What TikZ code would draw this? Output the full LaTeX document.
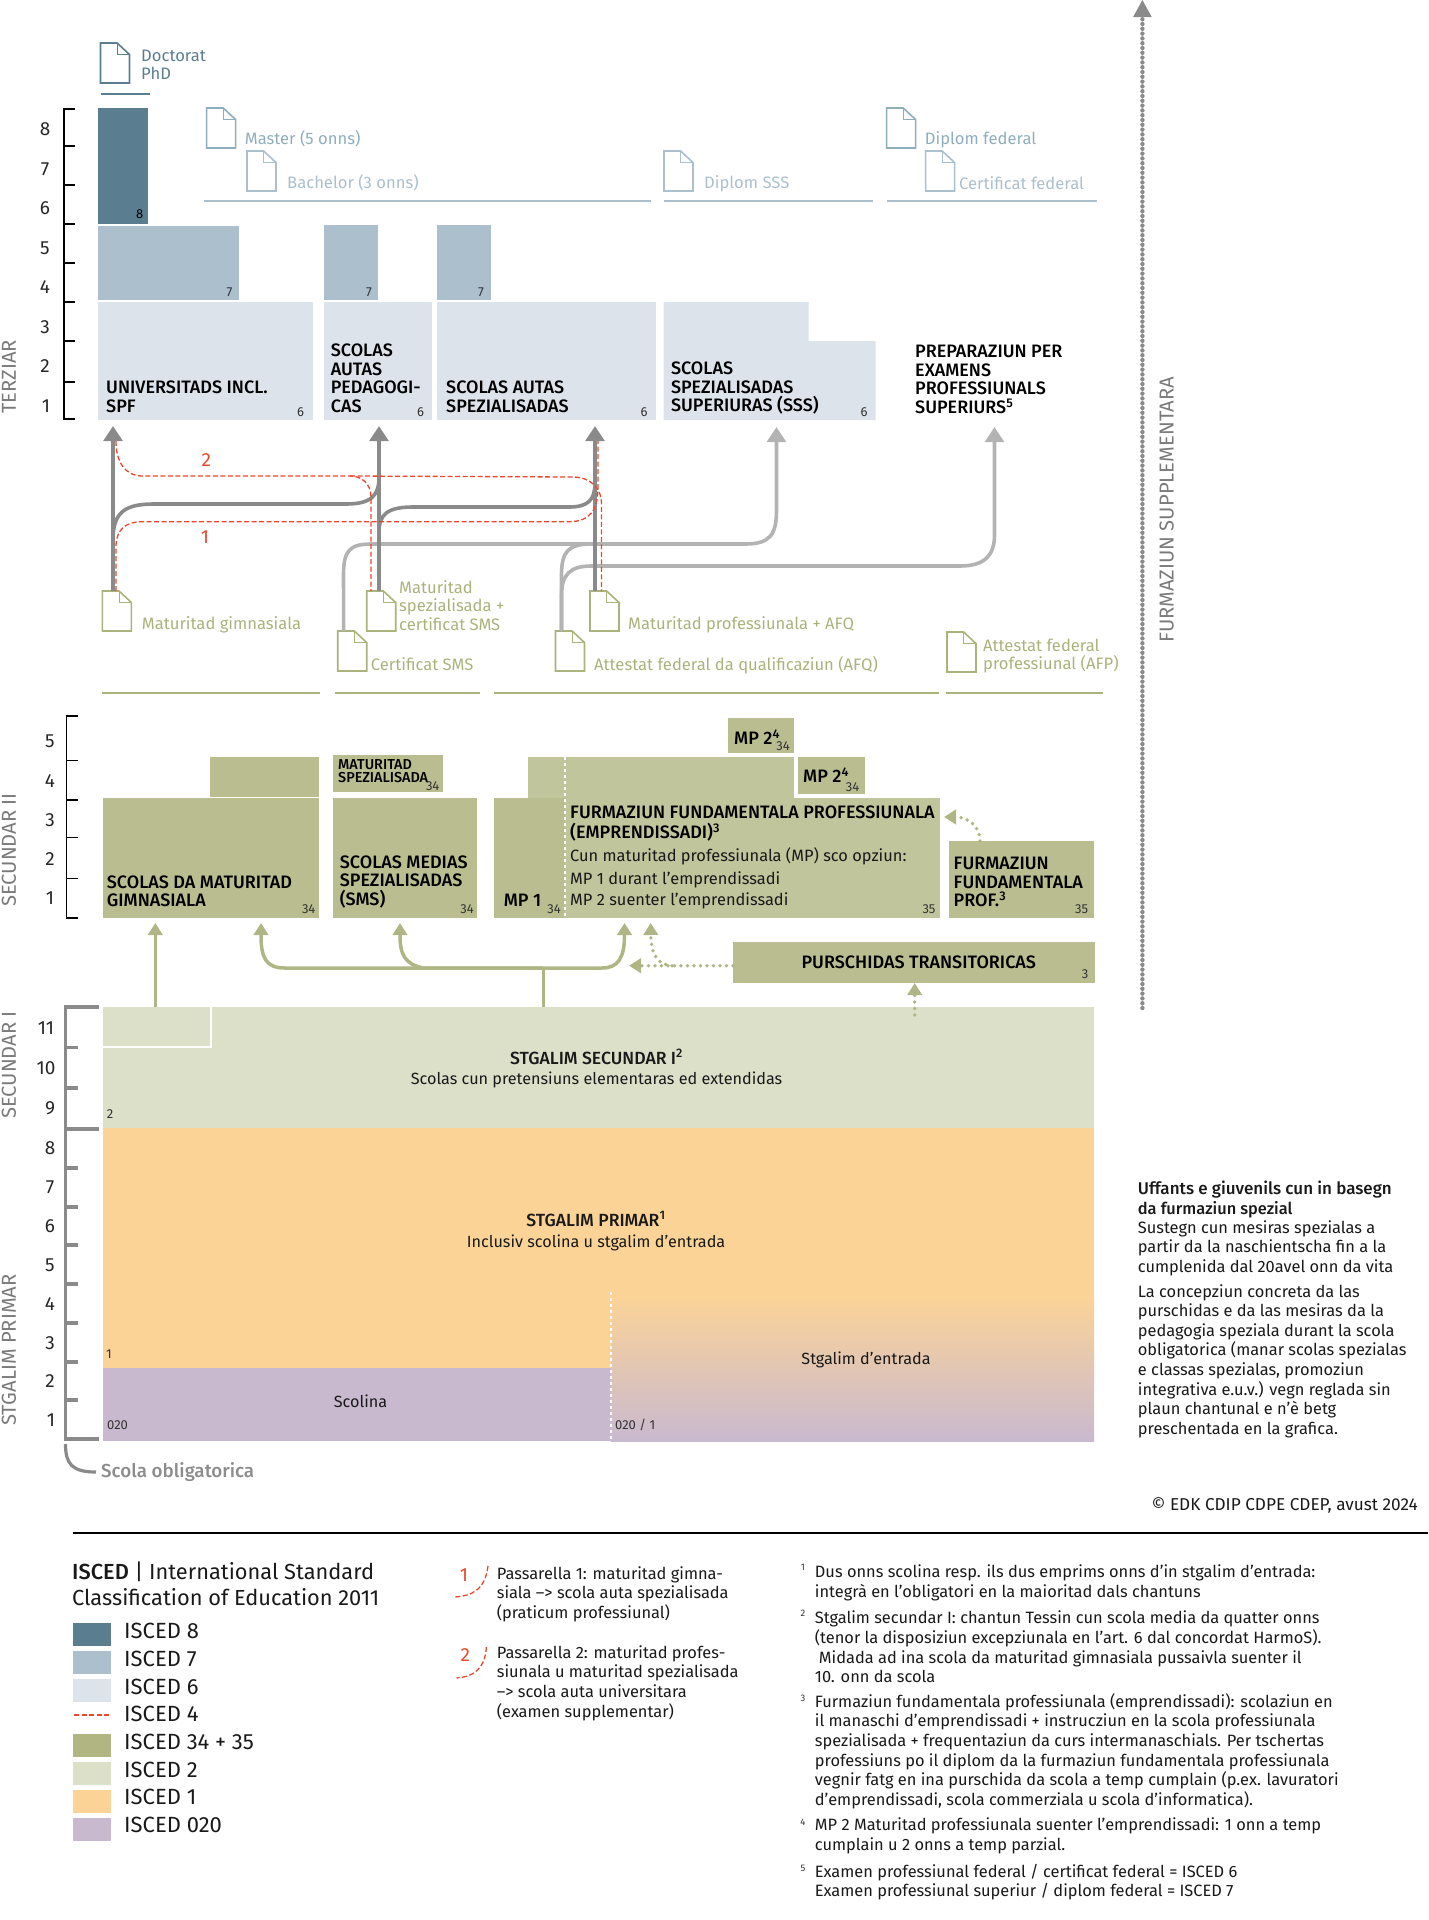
\documentclass[tikz,border=0pt]{standalone}
\usepackage{fontspec}
\setmainfont{Fira Sans}[BoldFont={Fira Sans Medium}]
\usepackage{xcolor}
\usetikzlibrary{arrows.meta}

\definecolor{isedeight}{HTML}{5A7D90}
\definecolor{isedseven}{HTML}{ABBFCD}
\definecolor{isedsix}{HTML}{DCE3EA}
\definecolor{isedsec}{HTML}{B9BD8F}
\definecolor{isedmain}{HTML}{C0C59C}
\definecolor{isedleg}{HTML}{B0B582}
\definecolor{isedtwo}{HTML}{DCE0C9}
\definecolor{isedone}{HTML}{FBD397}
\definecolor{isedzero}{HTML}{C9B9CF}
\definecolor{passred}{HTML}{E8472B}
\definecolor{darkarrow}{HTML}{8A8A8A}
\definecolor{lightarrow}{HTML}{B3B3B3}
\definecolor{greenarrow}{HTML}{B0B585}
\definecolor{greentext}{HTML}{ABB27B}
\definecolor{midblue}{HTML}{8FAEBD}
\definecolor{sidegray}{HTML}{7A7A7A}

\tikzset{
  isbox/.style={inner sep=0,outer sep=0,minimum width=#1,anchor=north west},
  boldtxt/.style={font=\fontsize{18}{18.5}\selectfont\bfseries,align=left,inner sep=0,anchor=west,text=black},
  plaintxt/.style={font=\fontsize{16.4}{19.6}\selectfont,align=left,inner sep=0,anchor=west,text=black!90},
  midtxt/.style={font=\fontsize{16.2}{18.5}\selectfont,align=center,inner sep=0,text=black!90},
  docblue/.style={font=\fontsize{16.6}{18.5}\selectfont,align=left,inner sep=0,anchor=west},
  docgreen/.style={font=\fontsize{16.6}{18.5}\selectfont,align=left,inner sep=0,anchor=west,text=greentext},
  isnum/.style={font=\fontsize{13}{13}\selectfont,inner sep=0,text=black!80},
  yearnum/.style={font=\fontsize{19}{20}\selectfont,inner sep=0,text=black!85},
  sidetxt/.style={font=\fontsize{20.2}{18}\selectfont,inner sep=0,rotate=90,text=sidegray},
  legtxt/.style={font=\fontsize{22}{22}\selectfont,inner sep=0,anchor=west,text=black!90},
  redtxt/.style={font=\fontsize{19}{20}\selectfont,inner sep=0,text=passred},
  swatch/.style={inner sep=0,outer sep=0,minimum width=37.5,minimum height=23,anchor=west},
  darkline/.style={draw=darkarrow,line width=3.6},
  darkarr/.style={darkline,-{Triangle[width=18.7,length=15]}},
  lightline/.style={draw=lightarrow,line width=3.6},
  lightarr/.style={lightline,-{Triangle[width=18.7,length=15]}},
  greenline/.style={draw=greenarrow,line width=3.5},
  greenarr/.style={greenline,-{Triangle[width=14.3,length=12]}},
  greendot/.style={draw=greenarrow,line width=3.8,line cap=round,dash pattern=on 0pt off 6.5pt,
    -{Triangle[width=14.3,length=12,fill=greenarrow,line cap=butt]}},
  redline/.style={draw=passred,line width=1.3,dash pattern=on 5pt off 2.5pt},
  scalethin/.style={draw=black,line width=1.4},
  scalethick/.style={draw=darkarrow,line width=3.2},
}

% icon: name, left, top, colour
\newcommand{\docicon}[4]{%
  \node[inner sep=0,outer sep=0,minimum width=29,minimum height=40,anchor=north west] (#1) at (#2,#3) {};
  \draw[#4,line width=1.6,fill=white] (#2,#3) -- ++(16.6,0) -- ++(12.4,11.5) -- ++(0,28.5) -- ++(-29,0) -- cycle;
  \draw[#4,line width=1] (#2+16.6,#3) -- ++(0,11.5) -- ++(12.4,0);
}

\begin{document}
\begin{tikzpicture}[x=1pt,y=-1pt]
  \useasboundingbox (0,0) rectangle (1428,1920);

  % tertiary boxes
  \node[isbox=50.5,minimum height=116,fill=isedeight] (phdbox) at (97.5,108) {};
  \node[isbox=141.5,minimum height=74,fill=isedseven] (unisev) at (97.5,226) {};
  \node[isbox=54,minimum height=75,fill=isedseven] (phsev) at (324,225) {};
  \node[isbox=54,minimum height=75,fill=isedseven] (fhsev) at (437,225) {};
  \node[isbox=215.5,minimum height=118,fill=isedsix] (unibox) at (97.5,302) {};
  \node[isbox=108,minimum height=118,fill=isedsix] (phbox) at (324,302) {};
  \node[isbox=219,minimum height=118,fill=isedsix] (fhbox) at (437,302) {};
  \fill[isedsix] (663.5,302) -- (808.6,302) -- (808.6,341) -- (875.5,341) -- (875.5,420) -- (663.5,420) -- cycle;
  \coordinate (sssbox) at (663.5,420);

  \node[boldtxt] (unitxt) at (106,397) {UNIVERSITADS INCL.\\SPF};
  \node[boldtxt] (phtxt) at (330.6,378.5) {SCOLAS\\AUTAS\\PEDAGOGI-\\CAS};
  \node[boldtxt] (fhtxt) at (446,397) {SCOLAS AUTAS\\SPEZIALISADAS};
  \node[boldtxt] (ssstxt) at (670.8,388.5) {SCOLAS\\SPEZIALISADAS\\SUPERIURAS (SSS)};
  \node[boldtxt] (preptxt) at (915,379.5) {PREPARAZIUN PER\\EXAMENS\\PROFESSIUNALS\\SUPERIURS\textsuperscript{5}};

  \node[isnum,text=black] (numphd) at (139.6,214) {8};
  \node[isnum] (numuni) at (229.6,292) {7};
  \node[isnum] (numph) at (369,292) {7};
  \node[isnum] (numfh) at (481,292) {7};
  \node[isnum] (sixuni) at (300.7,412) {6};
  \node[isnum] (sixph) at (420.6,412) {6};
  \node[isnum] (sixfh) at (644,412) {6};
  \node[isnum] (sixsss) at (864,412) {6};

  % diplomas
  \docicon{phdicon}{100.5}{43}{isedeight}
  \node[docblue,text=isedeight] (phdtxt) at (141,65) {Doctorat\\PhD};
  \draw[isedeight,line width=2] (phdicon.west |- 0,94) -- (150,94);
  \docicon{masicon}{206.6}{108}{midblue}
  \node[docblue,text=midblue] (mastxt) at (244.7,139) {Master (5 onns)};
  \docicon{baicon}{247}{151}{isedseven}
  \node[docblue,text=isedseven] (batxt) at (287,183) {Bachelor (3 onns)};
  \docicon{sssicon}{664}{151}{isedseven}
  \node[docblue,text=isedseven] (ssslbl) at (704,184) {Diplom SSS};
  \docicon{dipicon}{886.6}{108}{midblue}
  \node[docblue,text=midblue] (diptxt) at (924.7,140) {Diplom federal};
  \docicon{cerficon}{925.6}{151}{isedseven}
  \node[docblue,text=isedseven] (certxt) at (959,183) {Certificat federal};
  \draw[isedseven,line width=2] (204,200.5) -- (650.6,200.5);
  \draw[isedseven,line width=2] (664,200.5) -- (872.7,200.5);
  \draw[isedseven,line width=2] (887,200.5) -- (1097,200.5);

  % tertiary scale
  \draw[scalethin] (75,109) -- (64,109) -- (64,419) -- (75,419);
  \draw[scalethin] (64,146) -- (75,146);
  \draw[scalethin] (64,185) -- (75,185);
  \draw[scalethin] (64,224) -- (75,224);
  \draw[scalethin] (64,263) -- (75,263);
  \draw[scalethin] (64,302) -- (75,302);
  \draw[scalethin] (64,341) -- (75,341);
  \draw[scalethin] (64,382) -- (75,382);
  \node[yearnum] (ter8) at (45,129) {8};
  \node[yearnum] (ter7) at (45,169) {7};
  \node[yearnum] (ter6) at (45,208) {6};
  \node[yearnum] (ter5) at (45,248) {5};
  \node[yearnum] (ter4) at (45,287) {4};
  \node[yearnum] (ter3) at (45,327) {3};
  \node[yearnum] (ter2) at (45,366) {2};
  \node[yearnum] (ter1) at (46,406) {1};
  \node[sidetxt] (terziar) at (9,377) {TERZIAR};

  % further education
  \coordinate (supptop) at (1142.4,0);
  \coordinate (suppend) at (1142.4,1008);
  \draw[draw=darkarrow,line width=4.4,line cap=round,dash pattern=on 0pt off 4.8pt] (suppend) -- (1142.4,16);
  \fill[darkarrow] (supptop) -- (1151.7,17) -- (1133.1,17) -- cycle;
  \node[sidetxt] (supptxt) at (1166.6,510) {FURMAZIUN SUPPLEMENTARA};

  % maturity icons
  \docicon{matgym}{102.4}{591}{greentext}
  \docicon{matspez}{366.7}{591}{greentext}
  \docicon{matprof}{590}{591}{greentext}
  \docicon{cersms}{337.7}{631}{greentext}
  \docicon{afq}{555.5}{631}{greentext}
  \docicon{afp}{947}{632}{greentext}

  % connectors up to the tertiary level
  \coordinate (touni) at (113,426);
  \coordinate (toph) at (379,426);
  \coordinate (tofh) at (595,426);
  \coordinate (tosss) at (776.5,427);
  \coordinate (toprep) at (994.5,427);
  \draw[lightarr] ([xshift=6]cersms.north west) -- (343.5,575) .. controls (343.5,550) and (350,544) .. (372,544) -- (745,544) .. controls (770,544) and (776.5,535) .. (776.5,510) -- (tosss);
  \draw[lightline] ([xshift=6]afq.north west) -- (561.5,575) .. controls (561.5,552) and (568,544) .. (591,544);
  \draw[lightarr] ([xshift=6]afq.north west) -- (561.5,595) .. controls (561.5,575) and (570,566) .. (591,566) -- (960,566) .. controls (985,566) and (994.5,555) .. (994.5,535) -- (toprep);
  \draw[darkarr] (touni |- matgym.north) -- (touni);
  \draw[darkarr] (toph |- matspez.north) -- (toph);
  \draw[darkarr] (tofh |- matprof.north) -- (tofh);
  \draw[darkline] (113,540) .. controls (113,512) and (125,504) .. (154,504) -- (346,504) .. controls (372,504) and (379,495) .. (379,477);
  \draw[darkline] (379,532) .. controls (379,514) and (388,507) .. (413,507) -- (569,507) .. controls (588,507) and (595,500) .. (595,483);
  \coordinate (gymred) at (116,441);
  \draw[redline] (116,0 |- matgym.north) -- (116,547) .. controls (116,530) and (125,521.7) .. (142.6,521.7) -- (569,521.7) .. controls (590,521.7) and (598,510) .. (598,487) -- (598,441);
  \draw[redline] (gymred) .. controls (116,462) and (125,476) .. (142.6,476) -- (350,476) .. controls (362,476) and (371,484) .. (371,497) -- (371,0 |- matspez.north);
  \draw[redline] (350,476) -- (573,477) .. controls (590,477) and (601.5,488) .. (601.5,503) -- (601.5,0 |- matprof.north);
  \node[redtxt] (pass2) at (206.4,460) {2};
  \node[redtxt] (pass1) at (205,537) {1};

  \node[docgreen] (gymlbl) at (141.7,625) {Maturitad gimnasiala};
  \node[docgreen] (spezlbl) at (399,605.5) {Maturitad\\spezialisada +\\certificat SMS};
  \node[docgreen] (proflbl) at (628,625) {Maturitad professiunala + AFQ};
  \node[docgreen] (smslbl) at (370.7,664) {Certificat SMS};
  \node[docgreen] (afqlbl) at (594,665) {Attestat federal da qualificaziun (AFQ)};
  \node[docgreen] (afplbl) at (983,656) {Attestat federal\\professiunal (AFP)};
  \draw[greentext,line width=2] (102.4,693) -- (320,693);
  \draw[greentext,line width=2] (335,693) -- (479.6,693);
  \draw[greentext,line width=2] (494,693) -- (939,693);
  \draw[greentext,line width=2] (945.5,693) -- (1103,693);

  % secondary II
  \node[isbox=215.7,minimum height=120,fill=isedsec] (gymbox) at (103,798) {};
  \node[isbox=109,minimum height=40,fill=isedsec] (gymtop) at (209.7,757) {};
  \node[isbox=110,minimum height=37,fill=isedsec] (matbox) at (333,754.7) {};
  \node[isbox=143.7,minimum height=120,fill=isedsec] (smsbox) at (333,798) {};
  \node[isbox=71.5,minimum height=120,fill=isedsec] (mpbox) at (493.5,798) {};
  \node[isbox=265.5,minimum height=40.5,fill=isedmain] (eflztop) at (528,757) {};
  \node[isbox=375,minimum height=120,fill=isedmain] (eflzbox) at (565,798) {};
  \node[isbox=65.5,minimum height=35.3,fill=isedsec] (mptop) at (728,717.7) {};
  \node[isbox=66.5,minimum height=37,fill=isedsec] (mpright) at (798,757) {};
  \node[isbox=144.5,minimum height=77,fill=isedsec] (eba) at (949,841) {};
  \node[isbox=361.7,minimum height=40.7,fill=isedsec] (trans) at (733,942) {};
  \draw[white,line width=1.4,dashed] (565,757) -- (565,918);

  \node[boldtxt] (gymtxt) at (106.7,891.5) {SCOLAS DA MATURITAD\\GIMNASIALA};
  \node[boldtxt,font=\fontsize{14.4}{13}\selectfont\bfseries] (mattxt) at (338,771.5) {MATURITAD\\SPEZIALISADA};
  \node[boldtxt] (smstxt) at (339.7,882) {SCOLAS MEDIAS\\SPEZIALISADAS\\(SMS)};
  \node[boldtxt] (mptxt) at (503.7,900) {MP 1};
  \node[boldtxt] (mptoptxt) at (734,737) {MP 2\textsuperscript{4}};
  \node[boldtxt] (mprighttxt) at (803,775.5) {MP 2\textsuperscript{4}};
  \node[boldtxt] (eflztxt) at (570,823.5) {FURMAZIUN FUNDAMENTALA PROFESSIUNALA\\[1.5pt](EMPRENDISSADI)\textsuperscript{3}};
  \node[plaintxt] (eflzopt) at (570,856) {Cun maturitad professiunala (MP) sco opziun:};
  \node[plaintxt] (eflzone) at (570,879.5) {MP 1 durant l’emprendissadi};
  \node[plaintxt] (eflztwo) at (570,900.5) {MP 2 suenter l’emprendissadi};
  \node[boldtxt] (ebatxt) at (953.5,882) {FURMAZIUN\\FUNDAMENTALA\\PROF.\textsuperscript{3}};
  \node[boldtxt,anchor=center] (transtxt) at (918.8,962) {PURSCHIDAS TRANSITORICAS};
  \node[isnum] (nummat) at (432.7,786) {34};
  \node[isnum] (numgym) at (308.7,908.7) {34};
  \node[isnum] (numsms) at (467,908.7) {34};
  \node[isnum] (nummp) at (554,908.7) {34};
  \node[isnum] (numefz) at (929,908.7) {35};
  \node[isnum] (numeba) at (1081.6,908.7) {35};
  \node[isnum] (nummpt) at (783,746) {34};
  \node[isnum] (nummpr) at (852.6,786.7) {34};
  \node[isnum] (numtrans) at (1085,974) {3};

  % secondary II scale
  \draw[scalethin] (77.7,716) -- (66.7,716) -- (66.7,918) -- (77.7,918);
  \draw[scalethin] (66.7,760.7) -- (77.7,760.7);
  \draw[scalethin] (66.7,800) -- (77.7,800);
  \draw[scalethin] (66.7,837.7) -- (77.7,837.7);
  \draw[scalethin] (66.7,878.7) -- (77.7,878.7);
  \node[yearnum] (sec5) at (50,741) {5};
  \node[yearnum] (sec4) at (50,781) {4};
  \node[yearnum] (sec3) at (50,820) {3};
  \node[yearnum] (sec2) at (50,859) {2};
  \node[yearnum] (sec1) at (50,898) {1};
  \node[sidetxt] (secii) at (9,850) {SECUNDAR II};

  % compulsory school
  \node[isbox=991,minimum height=121,fill=isedtwo] (secbox) at (103,1007) {};
  \draw[white,line width=2] (103,1046.7) -- (211,1046.7) -- (211,1007);
  \fill[isedone] (103,1128) rectangle (1094,1300);
  \fill[isedone] (103,1300) rectangle (611,1368);
  \shade[top color=isedone,bottom color=isedzero] (611,1296) rectangle (1094,1441);
  \node[isbox=508,minimum height=73.4,fill=isedzero] (kinder) at (103,1367.6) {};
  \draw[white,line width=1.4,dashed] (611,1292) -- (611,1441);

  \node[midtxt] (sectitle) at (596.5,1057) {\fontsize{17.6}{18.5}\selectfont\textbf{STGALIM SECUNDAR I\textsuperscript{2}}};
  \node[midtxt] (secsub) at (596.5,1080) {Scolas cun pretensiuns elementaras ed extendidas};
  \node[midtxt] (primtitle) at (596,1219) {\fontsize{17.6}{18.5}\selectfont\textbf{STGALIM PRIMAR\textsuperscript{1}}};
  \node[midtxt] (primsub) at (596,1243) {Inclusiv scolina u stgalim d’entrada};
  \node[midtxt] (kindertxt) at (360.5,1401) {Scolina};
  \node[midtxt] (entrytxt) at (866,1360) {Stgalim d’entrada};
  \node[isnum] (numsec) at (110,1114.5) {2};
  \node[isnum] (numprim) at (109,1354) {1};
  \node[isnum,anchor=west] (numkin) at (107,1425) {020};
  \node[isnum,anchor=west] (nument) at (615,1425) {020 / 1};

  % compulsory scale
  \draw[scalethick] (99,1007) -- (65.5,1007) -- (65.5,1439) -- (99,1439);
  \draw[scalethick] (65.5,1047.7) -- (77.7,1047.7);
  \draw[scalethick] (65.5,1088) -- (77.7,1088);
  \draw[scalethick] (65.5,1129) -- (99,1129);
  \draw[scalethick] (65.5,1168) -- (77.7,1168);
  \draw[scalethick] (65.5,1207) -- (77.7,1207);
  \draw[scalethick] (65.5,1245) -- (77.7,1245);
  \draw[scalethick] (65.5,1284) -- (77.7,1284);
  \draw[scalethick] (65.5,1323) -- (77.7,1323);
  \draw[scalethick] (65.5,1362) -- (77.7,1362);
  \draw[scalethick] (65.5,1400) -- (77.7,1400);
  \node[yearnum] (obl11) at (46,1028) {11};
  \node[yearnum] (obl10) at (46,1068) {10};
  \node[yearnum] (obl9) at (50,1108) {9};
  \node[yearnum] (obl8) at (50,1148) {8};
  \node[yearnum] (obl7) at (50,1187) {7};
  \node[yearnum] (obl6) at (50,1226) {6};
  \node[yearnum] (obl5) at (50,1265) {5};
  \node[yearnum] (obl4) at (50,1304) {4};
  \node[yearnum] (obl3) at (50,1343) {3};
  \node[yearnum] (obl2) at (50,1381) {2};
  \node[yearnum] (obl1) at (51,1420) {1};
  \node[sidetxt] (seci) at (9,1065) {SECUNDAR I};
  \node[sidetxt] (prim) at (9,1350) {STGALIM PRIMAR};
  \coordinate (oblstart) at (65.5,1444);
  \coordinate (oblend) at (96,1472);
  \draw[scalethick] (oblstart) .. controls (65.5,1464) and (72,1472) .. (oblend);
  \node[font=\fontsize{18.8}{18}\selectfont\bfseries,inner sep=0,anchor=west,text=black!45] (obltxt) at (101,1472) {Scola obligatorica};

  % connectors up to secondary II
  \coordinate (togym) at (155.3,923);
  \coordinate (togymb) at (261,923);
  \coordinate (tosms) at (400,923);
  \coordinate (tomp) at (624.5,923);
  \coordinate (trunk) at (543.7,968);
  \draw[greenarr] (togym |- secbox.north) -- (togym);
  \draw[greenline] (trunk |- secbox.north) -- (trunk);
  \draw[greenarr] (trunk) -- (285,968) .. controls (266,968) and (261,958) .. (261,935) -- (togymb);
  \draw[greenarr] (trunk) -- (423,968) .. controls (405,964) and (400,955) .. (400,935) -- (tosms);
  \draw[greenarr] (trunk) -- (602,968) .. controls (618,968) and (624.5,958) .. (624.5,935) -- (tomp);
  \coordinate (totranl) at (629,965.7);
  \coordinate (totranu) at (650.6,923);
  \coordinate (toefz) at (944,817);
  \coordinate (totrant) at (914.7,983);
  \draw[greendot] (trans.west |- totranl) -- (totranl);
  \draw[greendot] (672,965.7) .. controls (658,965) and (651,955) .. (totranu);
  \draw[greendot] (eba.north -| 980,0) .. controls (980,828) and (970,817) .. (toefz);
  \draw[greendot] (914.7,1015) -- (totrant);

  % special needs text
  \node[plaintxt] (spectitle) at (1137.7,1199.5) {\fontsize{17}{19.6}\selectfont\textbf{Uffants e giuvenils cun in basegn}\\\textbf{da furmaziun spezial}};
  \node[plaintxt] (spectxt) at (1137.7,1248) {Sustegn cun mesiras spezialas a\\partir da la naschientscha fin a la\\cumplenida dal 20avel onn da vita};
  \node[plaintxt] (specmore) at (1137.7,1361) {La concepziun concreta da las\\purschidas e da las mesiras da la\\pedagogia speziala durant la scola\\obligatorica (manar scolas spezialas\\e classas spezialas, promoziun\\integrativa e.u.v.) vegn reglada sin\\plaun chantunal e n’è betg\\preschentada en la grafica.};
  \node[plaintxt,anchor=east,font=\fontsize{17.2}{19.6}\selectfont] (copyr) at (1418,1505) {© EDK CDIP CDPE CDEP, avust 2024};
  \draw[black,line width=2] (72.6,1533) -- (1428,1533);

  % legend
  \node[legtxt,align=left,font=\fontsize{21.8}{26}\selectfont] (legtitle) at (72,1584) {\textbf{ISCED} | International Standard\\Classification of Education 2011};
  \node[swatch,fill=isedeight] (leg8) at (73,1634) {};
  \node[swatch,fill=isedseven] (leg7) at (73,1662) {};
  \node[swatch,fill=isedsix] (leg6) at (73,1690) {};
  \coordinate (leg4) at (74,1715);
  \draw[redline] (leg4) -- (109,1715);
  \node[swatch,fill=isedleg] (leg34) at (73,1745) {};
  \node[swatch,fill=isedtwo] (leg2) at (73,1773) {};
  \node[swatch,fill=isedone] (leg1) at (73,1801) {};
  \node[swatch,fill=isedzero] (leg020) at (73,1829) {};
  \node[legtxt] (legt8) at (124,1631) {ISCED 8};
  \node[legtxt] (legt7) at (124,1659) {ISCED 7};
  \node[legtxt] (legt6) at (124,1686.5) {ISCED 6};
  \node[legtxt] (legt4) at (124,1714) {ISCED 4};
  \node[legtxt] (legt34) at (124,1742) {ISCED 34 + 35};
  \node[legtxt] (legt2) at (124,1770) {ISCED 2};
  \node[legtxt] (legt1) at (124,1797) {ISCED 1};
  \node[legtxt] (legt020) at (124,1825) {ISCED 020};

  % footbridges
  \coordinate (pa) at (488,1566);
  \coordinate (pb) at (454,1597);
  \coordinate (qa) at (486.4,1647);
  \coordinate (qb) at (456.5,1678);
  \draw[redline] (pa) .. controls (485,1590) and (472,1596) .. (pb);
  \draw[redline] (qa) .. controls (485,1670) and (472,1677) .. (qb);
  \node[redtxt] (pone) at (464,1575) {1};
  \node[redtxt] (ptwo) at (465.4,1655) {2};
  \node[plaintxt] (ponetxt) at (496.7,1594) {Passarella 1: maturitad gimna-\\siala –> scola auta spezialisada\\(praticum professiunal)};
  \node[plaintxt] (ptwotxt) at (496.7,1683) {Passarella 2: maturitad profes-\\siunala  u maturitad spezialisada\\–> scola auta universitara\\(examen supplementar)};

  % footnotes
  \node[plaintxt] (fnone) at (814.7,1583) {Dus onns scolina resp. ils dus emprims onns d'in stgalim d’entrada:\\integrà en l’obligatori en la maioritad dals chantuns};
  \node[plaintxt] (fntwo) at (814.7,1647) {Stgalim secundar I: chantun Tessin cun scola media da quatter onns\\(tenor la disposiziun excepziunala en l’art. 6 dal concordat HarmoS).\\\hspace{4pt}Midada ad ina scola da maturitad gimnasiala pussaivla suenter il\\10. onn da scola};
  \node[plaintxt] (fnthree) at (814.7,1751) {Furmaziun fundamentala professiunala (emprendissadi): scolaziun en\\il manaschi d’emprendissadi + instrucziun en la scola professiunala\\spezialisada + frequentaziun da curs intermanaschials. Per tschertas\\professiuns po il diplom da la furmaziun fundamentala professiunala\\vegnir fatg en ina purschida da scola a temp cumplain (p.ex. lavuratori\\d’emprendissadi, scola commerziala u scola d’informatica).};
  \node[plaintxt] (fnfour) at (814.7,1836) {MP 2 Maturitad professiunala suenter l’emprendissadi: 1 onn a temp\\cumplain u 2 onns a temp parzial.};
  \node[plaintxt] (fnfive) at (814.7,1882) {Examen professiunal federal / certificat federal = ISCED 6\\Examen professiunal superiur / diplom federal = ISCED 7};
  \node[isnum,font=\fontsize{9.5}{10}\selectfont] (fnn1) at (803,1567) {1};
  \node[isnum,font=\fontsize{9.5}{10}\selectfont] (fnn2) at (803,1613) {2};
  \node[isnum,font=\fontsize{9.5}{10}\selectfont] (fnn3) at (803,1698) {3};
  \node[isnum,font=\fontsize{9.5}{10}\selectfont] (fnn4) at (803,1822) {4};
  \node[isnum,font=\fontsize{9.5}{10}\selectfont] (fnn5) at (803,1868) {5};
\end{tikzpicture}
\end{document}
